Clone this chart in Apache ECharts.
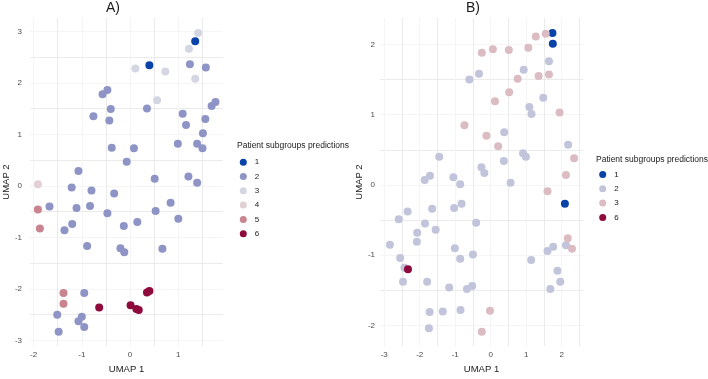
<!DOCTYPE html>
<html>
<head>
<meta charset="utf-8">
<script src="https://cdn.jsdelivr.net/npm/echarts@6/dist/echarts.min.js"></script>
<style>
  html, body { margin: 0; padding: 0; background: #fff; }
  #chart { width: 708px; height: 379px; }
</style>
</head>
<body>
<div id="chart"></div>
<script>
// panel A points per predicted subgroup, [UMAP 1, UMAP 2]
const a1 = [[1.35, 2.81], [0.40, 2.34]]
const a2 = [[1.24, 2.36], [1.57, 2.30], [-0.47, 1.86], [-0.57, 1.78], [1.77, 1.63], [1.69, 1.55], [-0.40, 1.49], [0.35, 1.50],
  [-0.76, 1.35], [-0.43, 1.27], [1.09, 1.40], [1.56, 1.30], [1.16, 1.18], [1.51, 1.02], [0.99, 0.82], [1.39, 0.82],
  [1.50, 0.73], [-0.38, 0.74], [0.08, 0.73], [-0.07, 0.47], [-1.07, 0.29], [0.51, 0.14], [1.21, 0.18], [1.39, 0.06],
  [-1.21, -0.03], [-0.80, -0.09], [-0.33, -0.15], [-1.67, -0.40], [-1.11, -0.43], [-0.83, -0.39], [-0.47, -0.53], [0.53, -0.49],
  [0.84, -0.33], [1.00, -0.64], [-0.13, -0.78], [0.15, -0.70], [-1.20, -0.74], [-1.36, -0.86], [-0.89, -1.17], [-0.20, -1.21],
  [-0.12, -1.29], [0.67, -1.22], [-0.95, -2.08], [-1.51, -2.50], [-1.00, -2.54], [-1.07, -2.63], [-0.95, -2.74], [-1.48, -2.83]]
const a3 = [[1.41, 2.97], [1.22, 2.66], [0.11, 2.28], [0.73, 2.22], [1.35, 2.08], [0.56, 1.66]]
const a4 = [[-1.91, 0.03]]
const a5 = [[-1.91, -0.46], [-1.87, -0.83], [-1.38, -2.08], [-1.38, -2.29]]
const a6 = [[-0.64, -2.36], [0.01, -2.32], [0.13, -2.39], [0.18, -2.41], [0.35, -2.07], [0.40, -2.04]]

// panel B points
const b1 = [[1.74, 2.16], [1.75, 2.01], [2.09, -0.27]]
const b2 = [[1.64, 1.76], [0.93, 1.64], [-0.60, 1.50], [-0.33, 1.58], [1.48, 1.24], [1.09, 1.11], [1.15, 1.01], [0.38, 0.75],
  [2.18, 0.57], [-1.45, 0.40], [0.91, 0.45], [0.99, 0.40], [0.37, 0.34], [-0.26, 0.25], [-0.18, 0.17], [-1.71, 0.13],
  [-1.86, 0.07], [-1.05, 0.11], [0.56, 0.03], [-0.86, 0.01], [-2.59, -0.49], [-2.34, -0.38], [-1.65, -0.34], [-1.03, -0.33],
  [-0.82, -0.27], [-1.85, -0.55], [-0.41, -0.54], [-1.55, -0.64], [-2.07, -0.68], [-2.08, -0.81], [-2.84, -0.85], [-1.01, -0.90],
  [-0.50, -0.99], [-0.86, -1.05], [-2.55, -1.04], [-2.43, -1.18], [-2.47, -1.38], [-1.79, -1.38], [-1.17, -1.46], [-0.67, -1.48],
  [-0.52, -1.44], [-1.72, -1.81], [-1.35, -1.80], [-0.85, -1.78], [-1.74, -2.04], [1.14, -1.07], [1.60, -0.94], [1.76, -0.88],
  [2.12, -0.86], [1.88, -1.22], [1.96, -1.38], [1.68, -1.48]]
const b3 = [[1.55, 2.15], [1.27, 2.11], [-0.25, 1.88], [0.06, 1.93], [0.51, 1.92], [1.06, 1.95], [0.76, 1.51], [1.35, 1.55],
  [1.64, 1.57], [0.52, 1.32], [0.12, 1.19], [1.94, 1.03], [-0.74, 0.85], [-0.12, 0.70], [0.21, 0.55], [2.35, 0.38],
  [2.12, 0.14], [1.60, -0.09], [2.17, -0.76], [2.29, -0.91], [-0.02, -1.79], [-0.25, -2.09]]
const b6 = [[-2.33, -1.20]]

const groupsA = ['1', '2', '3', '4', '5', '6']
const groupsB = ['1', '2', '3', '6']

// tick labels
const aTicksX = [-2, -1, 0, 1]
const aTicksY = [-3, -2, -1, 0, 1, 2, 3]
const bTicksX = [-3, -2, -1, 0, 1, 2]
const bTicksY = [-2, -1, 0, 1, 2]

const dataA = [a1, a2, a3, a4, a5, a6]
const dataB = [b1, b2, b3, b6]
const colorsA = ['#0a43a7', '#8e94c6', '#d5d6e3', '#e2d0d5', '#c9848f', '#8f0a3c']
const colorsB = ['#0a43a7', '#c1c4da', '#dcbcc3', '#8f0a3c']

const FONT = 'Liberation Sans, Arial, sans-serif'
const MAJOR = '#e6e6e6'
const MINOR = '#f2f2f2'

// major + minor grid positions (halves), labels only on majors
function gridVals(labels) {
  const out = []
  const lo = labels[0] - 0.5, hi = labels[labels.length - 1] + 0.5
  for (let v = lo; v <= hi + 1e-9; v += 0.5) out.push(+v.toFixed(1))
  return out
}

function valueAxis(gridIndex, min, max, labels, name, gap, margin) {
  const vals = gridVals(labels)
  // color array alternates; first grid line is a minor one
  return {
    type: 'value',
    gridIndex: gridIndex,
    min: min,
    max: max,
    name: name,
    nameLocation: 'middle',
    nameGap: gap,
    nameTextStyle: { color: '#1a1a1a', fontSize: 9.5, fontFamily: FONT },
    axisLine: { show: false },
    axisTick: { show: false, customValues: vals },
    axisLabel: {
      customValues: labels,
      color: '#4d4d4d',
      fontSize: 8,
      fontFamily: FONT,
      margin: margin
    },
    splitLine: { show: true, lineStyle: { color: [MINOR, MAJOR], width: 0.8 } }
  }
}

const chart = echarts.init(document.getElementById('chart'))

const series = []
groupsA.forEach((g, i) => {
  series.push({
    name: 'A' + g,
    type: 'scatter',
    xAxisIndex: 0,
    yAxisIndex: 0,
    symbolSize: 8,
    itemStyle: { color: colorsA[i], opacity: 1 },
    data: dataA[i]
  })
})
groupsB.forEach((g, i) => {
  series.push({
    name: 'B' + g,
    type: 'scatter',
    xAxisIndex: 1,
    yAxisIndex: 1,
    symbolSize: 8,
    itemStyle: { color: colorsB[i], opacity: 1 },
    data: dataB[i]
  })
})

const legendBase = {
  orient: 'vertical',
  icon: 'circle',
  itemWidth: 7,
  itemHeight: 7,
  itemGap: 6.3,
  padding: 0,
  formatter: n => n.slice(1),
  textStyle: { fontSize: 8, color: '#1a1a1a', fontFamily: FONT, padding: [0, 0, 0, 3], lineHeight: 7 },
  selectedMode: false
}

chart.setOption({
  animation: false,
  backgroundColor: '#fff',
  grid: [
    { left: 23, top: 18, width: 200, height: 339.5 },
    { left: 380, top: 18, width: 203, height: 339.5 }
  ],
  xAxis: [
    valueAxis(0, -2.074, 1.926, aTicksX, 'UMAP 1', 9, 5),
    valueAxis(1, -3.118, 2.6, bTicksX, 'UMAP 1', 9, 5)
  ],
  yAxis: [
    valueAxis(0, -3.111, 3.259, aTicksY, 'UMAP 2', 15, 8),
    valueAxis(1, -2.294, 2.375, bTicksY, 'UMAP 2', 14, 5)
  ],
  legend: [
    Object.assign({}, legendBase, { left: 239.8, top: 158.2, data: groupsA.map(g => 'A' + g) }),
    Object.assign({}, legendBase, { left: 599.2, top: 170.5, data: groupsB.map(g => 'B' + g) })
  ],
  graphic: [
    { type: 'text', x: 113, y: 8, style: { text: 'A)', align: 'center', verticalAlign: 'middle', font: '14px ' + FONT, fill: '#1a1a1a' } },
    { type: 'text', x: 473, y: 8, style: { text: 'B)', align: 'center', verticalAlign: 'middle', font: '14px ' + FONT, fill: '#1a1a1a' } },
    { type: 'text', x: 237, y: 146, style: { text: 'Patient subgroups predictions', verticalAlign: 'middle', font: '8.5px ' + FONT, fill: '#1a1a1a' } },
    { type: 'text', x: 596, y: 160, style: { text: 'Patient subgroups predictions', verticalAlign: 'middle', font: '8.5px ' + FONT, fill: '#1a1a1a' } }
  ],
  series: series
})
</script>
</body>
</html>
